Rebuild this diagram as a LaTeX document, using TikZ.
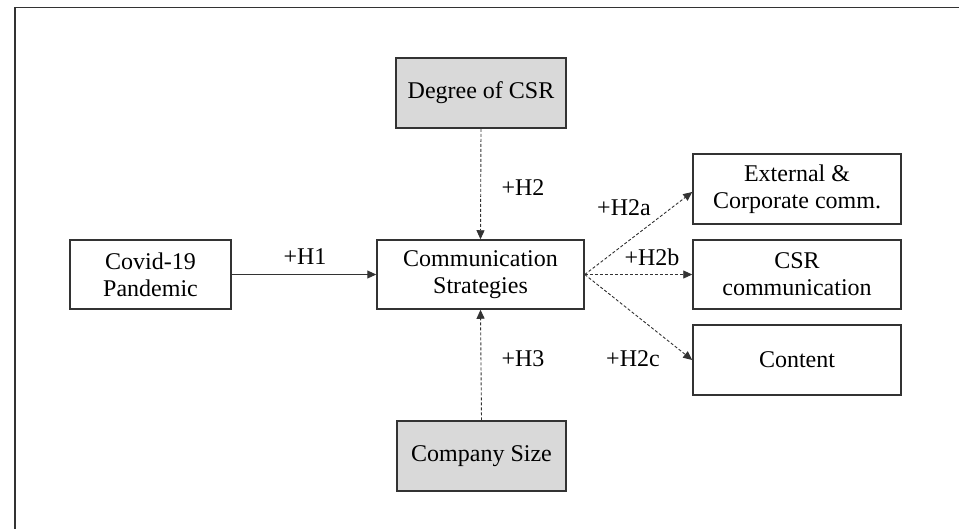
\documentclass[tikz,border=0pt]{standalone}
\usepackage{fontspec}
\setmainfont{Liberation Serif}
\usetikzlibrary{arrows.meta}
\definecolor{boxgray}{HTML}{D9D9D9}
\definecolor{linegray}{HTML}{333333}
\tikzset{
  vbox/.style={draw=linegray, line width=1.5pt, align=center, inner sep=0pt,
    font=\fontsize{24}{27}\selectfont},
  modbox/.style={vbox, fill=boxgray},
  solidarrow/.style={draw=linegray, line width=1pt, -{Triangle[length=9pt,width=8pt]}},
  dasharrow/.style={draw=linegray, line width=0.9pt, dash pattern=on 3pt off 2pt, -{Triangle[length=9pt,width=8pt]}},
  hlabel/.style={font=\fontsize{24}{27}\selectfont, inner sep=0pt}
}
\begin{document}
\begin{tikzpicture}[x=1pt,y=-1pt]
\useasboundingbox (0,0) rectangle (959,528);
\draw[linegray, line width=1.5pt] (15,535) -- (15,7.5) -- (965,7.5);
\node[modbox, minimum width=170pt, minimum height=70pt] (deg) at (481,93) {Degree of CSR};
\node[vbox, minimum width=161pt, minimum height=69pt] (covid) at (150.5,274.5) {Covid-19\\Pandemic};
\node[vbox, minimum width=207pt, minimum height=69pt] (comm) at (480.5,274.5) {Communication\\Strategies};
\node[modbox, minimum width=169pt, minimum height=70pt] (size) at (481.5,456) {Company Size};
\node[vbox, minimum width=208pt, minimum height=70pt] (ext) at (797,189) {External \&\\Corporate comm.};
\node[vbox, minimum width=208pt, minimum height=69pt] (csr) at (797,274.5) {CSR\\communication};
\node[vbox, minimum width=208pt, minimum height=70pt] (cont) at (797,360) {Content};
\draw[solidarrow] (covid.east) -- (comm.west);
\draw[dasharrow] (deg.south) -- (comm.north);
\draw[dasharrow] (size.north) -- (comm.south);
\draw[dasharrow] (comm.east) -- ([yshift=-3pt]ext.west);
\draw[dasharrow] (comm.east) -- (csr.west);
\draw[dasharrow] (comm.east) -- (cont.west);
\node[hlabel] (h1) at (305,257) {+H1};
\node[hlabel] (h2) at (523,188) {+H2};
\node[hlabel] (h3) at (523,359) {+H3};
\node[hlabel] (h2a) at (624,208) {+H2a};
\node[hlabel] (h2b) at (652,257) {+H2b};
\node[hlabel] (h2c) at (633,359) {+H2c};
\end{tikzpicture}
\end{document}
